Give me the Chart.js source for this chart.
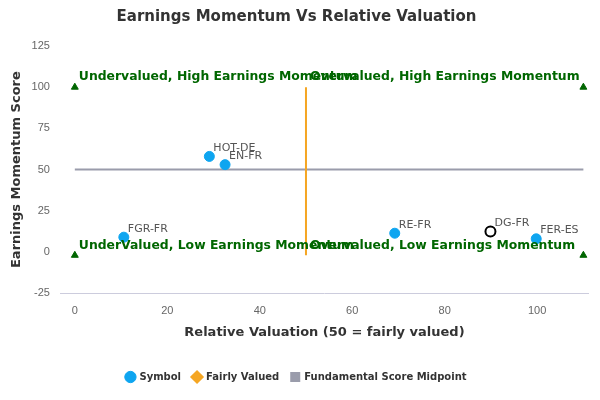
<!DOCTYPE html>
<html><head><script src="https://cdn.jsdelivr.net/npm/chart.js@4"></script>
<style>body{margin:0;background:#fff}#w{width:600px;height:400px;position:relative}</style></head>
<body><div id="w"><canvas id="c"></canvas></div>
<script>
const symbols=["HOT-DE","EN-FR","FGR-FR","RE-FR","FER-ES"];
const symX=[29.1,32.5,10.6,69.2,99.8];
const symY=[58,53,9,11.4,8];
const focusName="DG-FR", focusX=89.9, focusY=12.5;
const fairX=[50,50], fairY=[-2,100];
const midX=[0,110], midY=[50,50];
const cornerX=[0,110,0,110], cornerY=[100,100,-2,-2];
const quadLabels=[["Undervalued, High Earnings Momentum",0,100],["Overvalued, High Earnings Momentum",50,100],["UnderValued, Low Earnings Momentum",0,-2],["Overvalued, Low Earnings Momentum",50,-2]];
const zip=(a,b)=>a.map((v,i)=>({x:v,y:b[i]}));
const labelPlugin={id:"lbl",afterDatasetsDraw(ch){const c=ch.ctx,xs=ch.scales.x,ys=ch.scales.y;c.save();
c.font="11px 'DejaVu Sans'";c.fillStyle="#555";c.textBaseline="bottom";c.textAlign="left";
symbols.forEach((s,i)=>c.fillText(s,xs.getPixelForValue(symX[i])+4,ys.getPixelForValue(symY[i])-3));
c.fillText(focusName,xs.getPixelForValue(focusX)+4,ys.getPixelForValue(focusY)-3);
c.font="bold 12.4px 'DejaVu Sans'";c.fillStyle="#006600";c.textBaseline="middle";
quadLabels.forEach(q=>c.fillText(q[0],xs.getPixelForValue(q[1])+4,ys.getPixelForValue(q[2])-10));
c.restore();}};
new Chart(document.getElementById("c"),{type:"scatter",
data:{datasets:[
{label:"Symbol",data:zip(symX,symY),backgroundColor:"#0ea5f0",borderColor:"#0ea5f0",pointRadius:5,pointStyle:"circle"},
{label:"Focus",data:[{x:focusX,y:focusY}],backgroundColor:"#fff",borderColor:"#000",borderWidth:2,pointRadius:5},
{label:"Fairly Valued",data:zip(fairX,fairY),showLine:true,borderColor:"#f5a623",backgroundColor:"#f5a623",borderWidth:2,pointRadius:0,pointStyle:"rectRot"},
{label:"Fundamental Score Midpoint",data:zip(midX,midY),showLine:true,borderColor:"#9a9cab",backgroundColor:"#9a9cab",borderWidth:2,pointRadius:0,pointStyle:"rect"},
{label:"corner",data:zip(cornerX,cornerY),pointStyle:"triangle",pointRadius:4,backgroundColor:"#006600",borderColor:"#006600"}
]},
options:{responsive:true,maintainAspectRatio:false,animation:false,
layout:{padding:{left:5,right:12,top:0,bottom:8}},
plugins:{title:{display:true,text:"Earnings Momentum Vs Relative Valuation",font:{size:15,weight:"bold",family:"DejaVu Sans"},color:"#333",padding:{top:8,bottom:20}},
legend:{position:"bottom",labels:{usePointStyle:true,boxWidth:8,boxHeight:8,padding:12,font:{size:10,weight:"bold",family:"DejaVu Sans"},color:"#333",filter:i=>i.text!=="corner"&&i.text!=="Focus"}},tooltip:{enabled:false}},
scales:{x:{min:-3,max:111,afterBuildTicks:a=>{a.ticks=[0,20,40,60,80,100].map(v=>({value:v}))},title:{display:true,text:"Relative Valuation (50 = fairly valued)",font:{size:13,weight:"bold",family:"DejaVu Sans"},color:"#333",padding:{top:4,bottom:20}},grid:{display:false},border:{color:"#ccd"},ticks:{color:"#666",font:{size:11}}},
y:{min:-25,max:125,ticks:{stepSize:25,color:"#666",font:{size:11}},title:{display:true,text:"Earnings Momentum Score",font:{size:13,weight:"bold",family:"DejaVu Sans"},color:"#333"},grid:{display:false},border:{display:false}}}},
plugins:[labelPlugin]});
</script></body></html>
